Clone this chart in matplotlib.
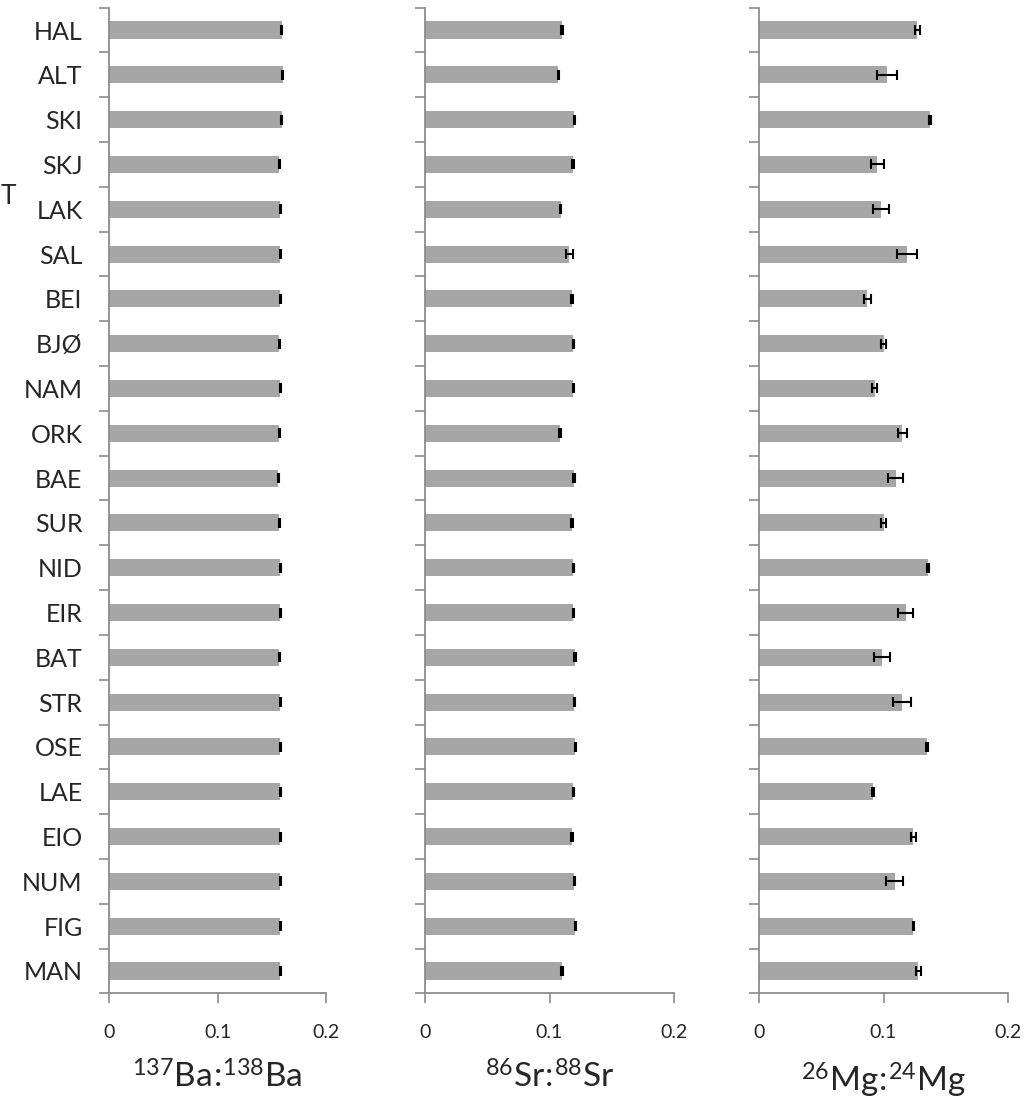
import numpy as np
import matplotlib
matplotlib.use("Agg")
import matplotlib.pyplot as plt

plt.rcParams["font.family"] = ["Lato", "DejaVu Sans"]
plt.rcParams["mathtext.fontset"] = "custom"
plt.rcParams["mathtext.rm"] = "Lato"

sites = ["HAL", "ALT", "SKI", "SKJ", "LAK", "SAL", "BEI", "BJØ", "NAM", "ORK", "BAE",
         "SUR", "NID", "EIR", "BAT", "STR", "OSE", "LAE", "EIO", "NUM", "FIG", "MAN"]

ba_mean = [0.159, 0.160, 0.159, 0.157, 0.158, 0.158, 0.158, 0.157, 0.158, 0.157, 0.156,
           0.157, 0.158, 0.158, 0.157, 0.158, 0.158, 0.158, 0.158, 0.158, 0.158, 0.158]
ba_err = [0.0004, 0.0008, 0.0005, 0.0003, 0.0007, 0.0007, 0.0007, 0.0003, 0.0005, 0.0003, 0.0006,
          0.0004, 0.0005, 0.0005, 0.0003, 0.0007, 0.0007, 0.0005, 0.0005, 0.0005, 0.0007, 0.0005]

sr_mean = [0.110, 0.107, 0.120, 0.119, 0.109, 0.116, 0.118, 0.119, 0.119, 0.1085, 0.120,
           0.118, 0.119, 0.119, 0.1205, 0.120, 0.1205, 0.119, 0.118, 0.120, 0.1205, 0.110]
sr_err = [0.0007, 0.0003, 0.0004, 0.0007, 0.0003, 0.0025, 0.0005, 0.0004, 0.0004, 0.0007, 0.0008,
          0.0005, 0.0004, 0.0004, 0.0005, 0.0007, 0.0004, 0.0004, 0.0006, 0.0007, 0.0004, 0.0006]

mg_mean = [0.127, 0.103, 0.137, 0.095, 0.098, 0.119, 0.087, 0.100, 0.093, 0.115, 0.110,
           0.100, 0.136, 0.118, 0.099, 0.115, 0.135, 0.0915, 0.124, 0.109, 0.124, 0.128]
mg_err = [0.002, 0.008, 0.0008, 0.005, 0.0065, 0.008, 0.003, 0.002, 0.002, 0.0035, 0.006,
          0.002, 0.0008, 0.006, 0.0063, 0.007, 0.0008, 0.0008, 0.002, 0.007, 0.0004, 0.002]

xlabels = [r"$\mathregular{^{137}Ba\!:\!^{138}Ba}$",
           r"$\mathregular{^{86}Sr\!:\!^{88}Sr}$",
           r"$\mathregular{^{26}Mg\!:\!^{24}Mg}$"]
xticks = [0, 0.1, 0.2]
xticklabels = ["0", "0.1", "0.2"]

W, H = 1029, 1103
fig = plt.figure(figsize=(W / 100, H / 100), dpi=100)

axis_grey = "#8c8c8c"
bar_grey = "#a6a6a6"
top_px, bot_px = 7.6, 993.4
panels = [(109, 326), (425, 674), (759, 1008)]
data = [(ba_mean, ba_err), (sr_mean, sr_err), (mg_mean, mg_err)]

y = np.arange(len(sites))
for i, ((x0, x1), (m, e), lab) in enumerate(zip(panels, data, xlabels)):
    ax = fig.add_axes([x0 / W, 1 - bot_px / H, (x1 - x0) / W, (bot_px - top_px) / H])
    ax.barh(y, m, height=0.38, color=bar_grey, zorder=2)
    ax.errorbar(m, y, xerr=e, fmt="none", ecolor="black", elinewidth=1.5,
                capsize=3.6, capthick=1.5, zorder=3)
    ax.set_xlim(0, 0.2)
    ax.set_ylim(len(sites) - 0.5, -0.5)
    for s in ("top", "right"):
        ax.spines[s].set_visible(False)
    for s in ("left", "bottom"):
        ax.spines[s].set_color(axis_grey)
        ax.spines[s].set_linewidth(1.3)
    ax.set_xticks(xticks)
    ax.set_xticklabels(xticklabels)
    ax.tick_params(axis="x", direction="out", length=7, width=1.2, color=axis_grey,
                   labelsize=14, labelcolor="#262626", pad=15)
    ax.set_yticks(np.arange(-0.5, len(sites), 1.0), minor=False)
    ax.set_yticklabels([])
    ax.set_yticks(y, minor=True)
    ax.tick_params(axis="y", which="major", direction="out", length=7, width=1.2, color=axis_grey)
    ax.tick_params(axis="y", which="minor", length=0, labelsize=18, labelcolor="#262626", pad=19)
    if i == 0:
        ax.set_yticklabels(sites, minor=True)
    ax.set_xlabel(lab, fontsize=24, color="#262626", labelpad=14)

# fragment of a neighbouring figure at the left edge
fig.text(0.001, 1 - 196 / H, "T", fontsize=19, color="#262626", va="center", ha="left")

fig.savefig("out.png", dpi=100)
